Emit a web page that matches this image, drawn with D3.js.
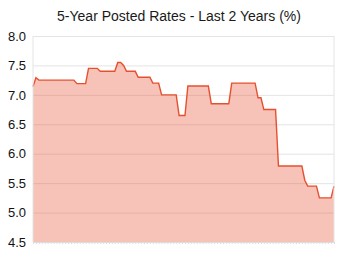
<!DOCTYPE html>
<html>
<head>
<meta charset="utf-8">
<script src="https://cdn.jsdelivr.net/npm/d3@7"></script>
<style>
  body { margin: 0; background: #fff; }
  svg { display: block; font-family: "Liberation Sans", Arial, sans-serif; }
</style>
</head>
<body>
<div id="chart"></div>
<script>
// weekly 5-year posted rate, last 2 years (oldest first)
const rates = [
  7.14, 7.29,
  7.25, 7.25, 7.25, 7.25, 7.25, 7.25, 7.25, 7.25, 7.25, 7.25, 7.25, 7.25, 7.25,
  7.19, 7.19, 7.19, 7.19,
  7.45, 7.45, 7.45, 7.45,
  7.40, 7.40, 7.40, 7.40, 7.40, 7.40,
  7.55, 7.55,
  7.50,
  7.40, 7.40, 7.40, 7.40,
  7.30, 7.30, 7.30, 7.30, 7.30,
  7.20, 7.20, 7.20,
  7.00, 7.00, 7.00, 7.00, 7.00, 7.00,
  6.65, 6.65, 6.65,
  7.15, 7.15, 7.15, 7.15, 7.15, 7.15, 7.15, 7.15,
  6.85, 6.85, 6.85, 6.85, 6.85, 6.85, 6.85,
  7.20, 7.20, 7.20, 7.20, 7.20, 7.20, 7.20, 7.20, 7.20,
  6.95, 6.95,
  6.75, 6.75, 6.75, 6.75, 6.75,
  5.79, 5.79, 5.79, 5.79, 5.79, 5.79, 5.79, 5.79, 5.79,
  5.55,
  5.45, 5.45, 5.45, 5.45,
  5.25, 5.25, 5.25, 5.25, 5.25,
  5.45
];
const yTicks = [4.5, 5.0, 5.5, 6.0, 6.5, 7.0, 7.5, 8.0];
const title = "5-Year Posted Rates - Last 2 Years (%)";

const W = 360, H = 269;
const margin = {top: 36, right: 26, bottom: 27, left: 33};
const width = W - margin.left - margin.right,
      height = H - margin.top - margin.bottom;

const svg = d3.select("#chart").append("svg")
    .attr("width", W)
    .attr("height", H);

svg.append("text")
    .attr("x", W / 2 - 1)
    .attr("y", 21)
    .attr("text-anchor", "middle")
    .attr("font-size", 14)
    .attr("fill", "#1a1a1a")
    .text(title);

const g = svg.append("g")
    .attr("transform", `translate(${margin.left}, ${margin.top})`);

const x = d3.scaleLinear()
    .domain([0, rates.length - 1])
    .range([0, width]);
const y = d3.scaleLinear()
    .domain([4.5, 8.0])
    .range([height, 0]);

// grid lines
g.append("g")
    .call(d3.axisLeft(y).tickValues(yTicks).tickSize(-width).tickFormat(""))
    .call(a => a.select(".domain").remove())
    .selectAll("line")
    .attr("stroke", "#e4e4e4");

// area + line
g.append("path")
    .datum(rates)
    .attr("fill", "rgba(232,88,58,0.36)")
    .attr("d", d3.area()
        .x((d, i) => x(i))
        .y0(height)
        .y1(d => y(d)));

g.append("path")
    .datum(rates)
    .attr("fill", "none")
    .attr("stroke", "#e6502f")
    .attr("stroke-width", 1.4)
    .attr("d", d3.line()
        .x((d, i) => x(i))
        .y(d => y(d)));

// frame
g.append("line")
    .attr("x1", 0).attr("x2", 0)
    .attr("y1", 0).attr("y2", height)
    .attr("stroke", "#e4e4e4");
g.append("line")
    .attr("x1", width).attr("x2", width)
    .attr("y1", 0).attr("y2", height)
    .attr("stroke", "#e4e4e4");

// bottom dotted axis
g.append("g")
    .attr("transform", `translate(0, ${height})`)
    .call(d3.axisBottom(x).ticks(rates.length).tickSize(2).tickFormat(""))
    .call(a => a.select(".domain").attr("stroke", "#ddd"))
    .selectAll("line")
    .attr("stroke", "#ddd");

// y labels
g.append("g")
    .call(d3.axisLeft(y).tickValues(yTicks).tickSize(0).tickPadding(7)
        .tickFormat(d3.format(".1f")))
    .call(a => a.select(".domain").remove())
    .selectAll("text")
    .attr("font-size", 13)
    .attr("font-family", "Liberation Sans, Arial, sans-serif")
    .attr("fill", "#111");
</script>
</body>
</html>
